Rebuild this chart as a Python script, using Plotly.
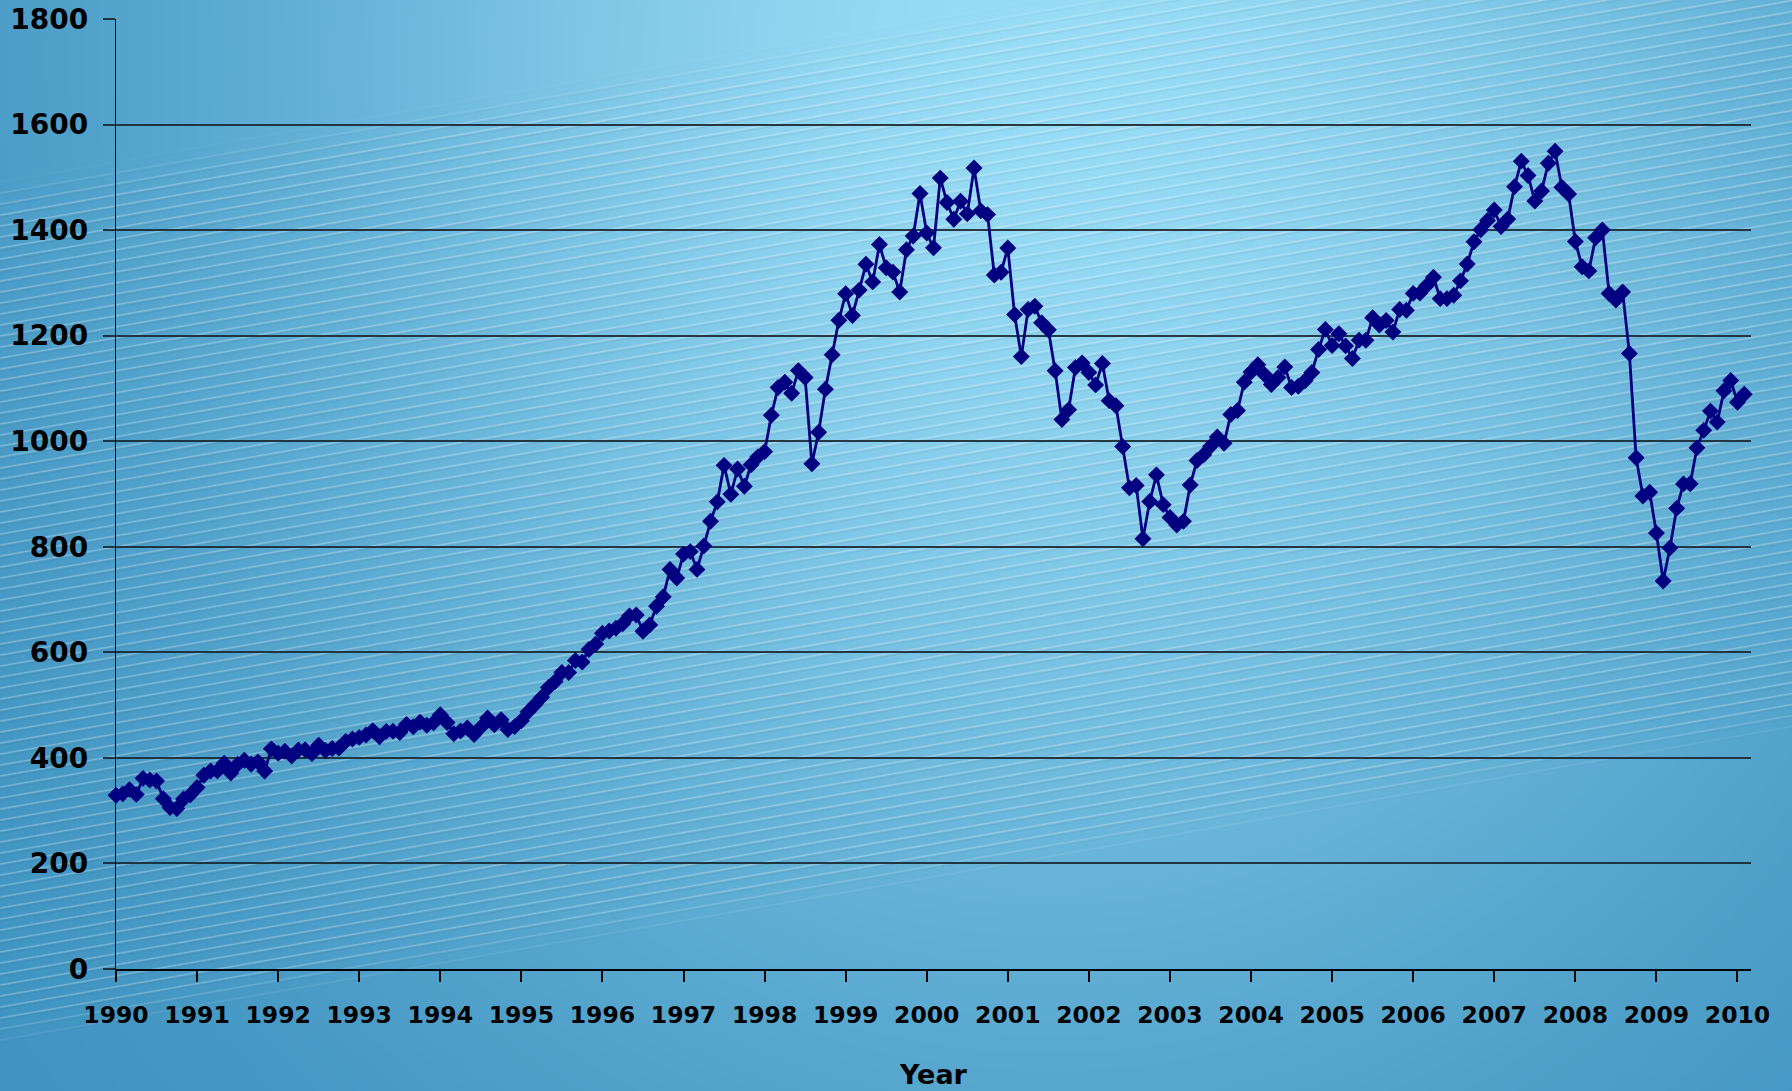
import base64
import struct
import zlib

import numpy as np
import plotly.graph_objects as go

# ---------------- data (monthly index level, Jan 1990 - Feb 2010) ----------------
year_labels = ["1990", "1991", "1992", "1993", "1994", "1995", "1996", "1997",
               "1998", "1999", "2000", "2001", "2002", "2003", "2004", "2005",
               "2006", "2007", "2008", "2009", "2010"]

close = [
    329.08, 331.89, 339.94, 330.80, 361.23, 358.02, 356.15, 322.56, 306.05, 304.00, 322.22, 330.22,
    343.93, 367.07, 375.22, 375.34, 389.83, 371.16, 387.81, 395.43, 387.86, 392.46, 375.22, 417.09,
    408.79, 412.70, 403.69, 414.95, 415.35, 408.14, 424.21, 414.03, 417.80, 418.68, 431.35, 435.71,
    438.78, 443.38, 451.67, 440.19, 450.19, 450.53, 448.13, 463.56, 458.93, 467.83, 461.79, 466.45,
    481.61, 467.14, 445.77, 450.91, 456.50, 444.27, 458.26, 475.49, 462.69, 472.35, 453.69, 459.27,
    470.42, 487.39, 500.71, 514.71, 533.40, 544.75, 562.06, 561.88, 584.41, 581.50, 605.37, 615.93,
    636.02, 640.43, 645.50, 654.17, 669.12, 670.63, 639.95, 651.99, 687.31, 705.27, 757.02, 740.74,
    786.16, 790.82, 757.12, 801.34, 848.28, 885.14, 954.29, 899.47, 947.28, 914.62, 955.40, 970.43,
    980.28, 1049.34, 1101.75, 1111.75, 1090.82, 1133.84, 1120.67, 957.28, 1017.01, 1098.67, 1163.63, 1229.23,
    1279.64, 1238.33, 1286.37, 1335.18, 1301.84, 1372.71, 1328.72, 1320.41, 1282.71, 1362.93, 1388.91, 1469.25,
    1394.46, 1366.42, 1498.58, 1452.43, 1420.60, 1454.60, 1430.83, 1517.68, 1436.51, 1429.40, 1314.95, 1320.28,
    1366.01, 1239.94, 1160.33, 1249.46, 1255.82, 1224.42, 1211.23, 1133.58, 1040.94, 1059.78, 1139.45, 1148.08,
    1130.20, 1106.73, 1147.39, 1076.92, 1067.14, 989.82, 911.62, 916.07, 815.28, 885.76, 936.31, 879.82,
    855.70, 841.15, 848.18, 916.92, 963.59, 974.50, 990.31, 1008.01, 995.97, 1050.71, 1058.20, 1111.92,
    1131.13, 1144.94, 1126.21, 1107.30, 1120.68, 1140.84, 1101.72, 1104.24, 1114.58, 1130.20, 1173.82, 1211.92,
    1181.27, 1203.60, 1180.59, 1156.85, 1191.50, 1191.33, 1234.18, 1220.33, 1228.81, 1207.01, 1249.48, 1248.29,
    1280.08, 1280.66, 1294.83, 1310.61, 1270.09, 1270.20, 1276.66, 1303.82, 1335.85, 1377.94, 1400.63, 1418.30,
    1438.24, 1406.82, 1420.86, 1482.37, 1530.62, 1503.35, 1455.27, 1473.99, 1526.75, 1549.38, 1481.14, 1468.36,
    1378.55, 1330.63, 1322.70, 1385.59, 1400.38, 1280.00, 1267.38, 1282.83, 1166.36, 968.75, 896.24, 903.25,
    825.88, 735.09, 797.87, 872.81, 919.14, 919.32, 987.48, 1020.62, 1057.08, 1036.19, 1095.63, 1115.10,
    1073.87, 1089.00,
]

months_per_year = 12
month_index = list(range(len(close)))
year_tickvals = [i * months_per_year for i in range(len(year_labels))]

# ---------------- layout geometry ----------------
W, H = 1792, 1091
L, R, T, B = 116, 41, 19, 122
PW, PH = W - L - R, H - T - B

# ---------------- background picture (gradient + diagonal stripes) ----------------
yy, xx = np.mgrid[0:H, 0:W].astype(np.float64)
dark = np.array([58.0, 143.0, 189.0])
bright = np.array([152.0, 219.0, 245.0])
f = np.exp(-(((xx - 1050.0) / 820.0) ** 2 + ((yy - 60.0) / 950.0) ** 2))
img = dark + (bright - dark) * f[..., None]

s = yy + 0.175 * xx
band = np.clip((s - 178.0) / 35.0, 0, 1) * np.clip((1050.0 - s) / 35.0, 0, 1)
ph = np.mod(s, 11.0)
stripe = np.clip(1.0 - np.abs(ph - 5.5) / 1.4, 0, 1)
shadow = np.clip(1.0 - np.abs(ph - 8.0) / 1.2, 0, 1)
a_light = 0.30 * stripe * band
a_dark = 0.06 * shadow * band
img = img * (1 - a_light[..., None]) + 255.0 * a_light[..., None]
img = img * (1 - a_dark[..., None]) + 20.0 * a_dark[..., None]
img = np.clip(np.round(img), 0, 255).astype(np.uint8)


def to_png(arr):
    h, w, _ = arr.shape
    rows = arr.reshape(h, w * 3).astype(np.int16)
    filt = rows.copy()
    filt[:, 3:] = (rows[:, 3:] - rows[:, :-3]) % 256
    raw = np.hstack([np.ones((h, 1), dtype=np.int16), filt]).astype(np.uint8).tobytes()

    def chunk(tag, data):
        return (struct.pack(">I", len(data)) + tag + data
                + struct.pack(">I", zlib.crc32(tag + data) & 0xFFFFFFFF))

    return (b"\x89PNG\r\n\x1a\n"
            + chunk(b"IHDR", struct.pack(">IIBBBBB", w, h, 8, 2, 0, 0, 0))
            + chunk(b"IDAT", zlib.compress(raw, 9))
            + chunk(b"IEND", b""))


bg_uri = "data:image/png;base64," + base64.b64encode(to_png(img)).decode("ascii")

# ---------------- figure ----------------
navy = "#000080"
grid = "rgba(25,40,50,0.9)"

fig = go.Figure()
fig.add_trace(go.Scatter(
    x=month_index, y=close, mode="lines+markers",
    line=dict(color=navy, width=2.8),
    marker=dict(symbol="diamond", size=13, color=navy, line=dict(width=0)),
    cliponaxis=False, showlegend=False,
))

fig.update_layout(
    width=W, height=H, autosize=False,
    margin=dict(l=L, r=R, t=T, b=B, pad=0, autoexpand=False),
    paper_bgcolor="#4fa3cc",
    plot_bgcolor="rgba(0,0,0,0)",
    images=[dict(source=bg_uri, xref="paper", yref="paper",
                 x=-L / PW, y=1 + T / PH, sizex=W / PW, sizey=H / PH,
                 xanchor="left", yanchor="top", sizing="stretch", layer="below")],
    font=dict(family="DejaVu Sans", color="black"),
    xaxis=dict(
        range=[0, 242], tickmode="array", tickvals=year_tickvals, ticktext=year_labels,
        automargin=False,
        showgrid=False, zeroline=False, showline=True, linecolor="black", linewidth=1.5,
        ticks="outside", ticklen=11, tickwidth=1.5, tickcolor="black",
        ticklabelstandoff=13,
        tickfont=dict(family="DejaVu Sans", size=23.5, color="black", weight="bold"),
    ),
    yaxis=dict(
        range=[0, 1800], dtick=200, tick0=0, automargin=False,
        showgrid=True, gridcolor=grid, gridwidth=1.5, zeroline=False,
        showline=True, linecolor="black", linewidth=1.2,
        ticks="outside", ticklen=12, tickwidth=1.5, tickcolor=grid,
        ticklabelstandoff=9,
        tickfont=dict(family="DejaVu Sans", size=28, color="black", weight="bold"),
    ),
    annotations=[dict(text="Year", xref="paper", yref="paper", x=0.5, y=(969 - 1074) / PH,
                      xanchor="center", yanchor="middle", showarrow=False,
                      font=dict(family="DejaVu Sans", size=27, color="black", weight="bold"))],
)

fig.write_html("out.html",
               config={"displayModeBar": False},
               post_script="document.body.style.margin='0';document.body.style.padding='0';"
                           "document.documentElement.style.overflow='hidden';")
